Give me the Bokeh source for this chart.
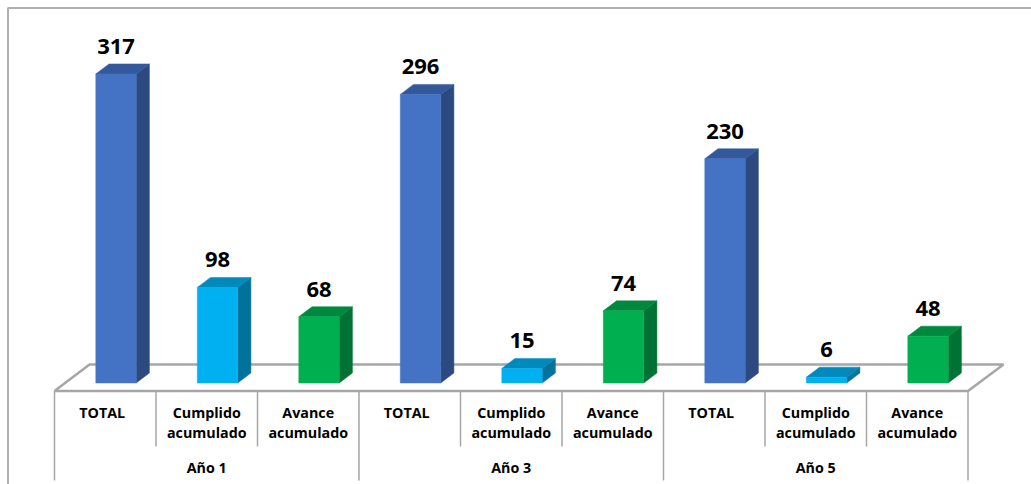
from bokeh.plotting import figure
from bokeh.models import Range1d
from bokeh.core.properties import value
from bokeh.embed import file_html
from bokeh.resources import INLINE

categories = ["TOTAL", "Cumplido\nacumulado", "Avance\nacumulado"] * 3
groups = ["Año 1", "Año 3", "Año 5"]
values = [317, 98, 68, 296, 15, 74, 230, 6, 48]

FRONT = {"TOTAL": "#4472C4", "Cumplido\nacumulado": "#00B0F0", "Avance\nacumulado": "#00B050"}
SIDE = {"TOTAL": "#2C4A80", "Cumplido\nacumulado": "#00729C", "Avance\nacumulado": "#007234"}
TOP = {"TOTAL": "#34599A", "Cumplido\nacumulado": "#0089BB", "Avance\nacumulado": "#00893E"}

W, H = 1031, 484
PX_X = 101.5      # px per category
PX_Y = 0.975      # px per unit
X0_PX = 115.5     # centre of first bar
Y0_PX = 382.5     # bar base
p = figure(width=W, height=H, output_backend="svg", toolbar_location=None,
           x_range=Range1d(-X0_PX / PX_X, (W - X0_PX) / PX_X),
           y_range=Range1d(-(H - Y0_PX) / PX_Y, Y0_PX / PX_Y),
           min_border=0, outline_line_color=None, background_fill_color="white")
p.axis.visible = False
p.grid.visible = False


def X(px):
    return (px - X0_PX) / PX_X


def Y(px):
    return (Y0_PX - px) / PX_Y


hw = 20.2 / PX_X
dx = 13.2 / PX_X
dy = 10 / PX_Y

# outer frame (open on the right and at the bottom)
p.line([X(7.5), X(7.5), X(W)], [Y(H), Y(7.5), Y(7.5)], line_color="#B0B0B0", line_width=2)

# floor
p.line([X(54), X(89), X(1003), X(967.5), X(54)],
       [Y(390.5), Y(364), Y(364), Y(390.5), Y(390.5)], line_color="#A6A6A6", line_width=2.5)

fronts = dict(xs=[], ys=[], c=[])
sides = dict(xs=[], ys=[], c=[])
tops = dict(xs=[], ys=[], c=[])
for i, (c, v) in enumerate(zip(categories, values)):
    l, r = i - hw, i + hw
    fronts["xs"].append([l, r, r, l]); fronts["ys"].append([0, 0, v, v]); fronts["c"].append(FRONT[c])
    sides["xs"].append([r, r + dx, r + dx, r]); sides["ys"].append([0, dy, v + dy, v]); sides["c"].append(SIDE[c])
    tops["xs"].append([l, r, r + dx, l + dx]); tops["ys"].append([v, v, v + dy, v + dy]); tops["c"].append(TOP[c])
for d in (sides, tops, fronts):
    p.patches("xs", "ys", fill_color="c", line_color="c", line_width=0.5, source=d)

font = value("Open Sans")
p.text(list(range(9)), [v + dy + 10/PX_Y for v in values],
       text=[str(v) for v in values], text_font=font, text_font_size="22px",
       text_font_style="bold", text_align="center", text_baseline="bottom", text_color="black")

# category separators
for k in range(10):
    xx = X(54 + 101.5 * k)
    p.line([xx, xx], [Y(390.5), Y(480) if k % 3 == 0 else Y(446)], line_color="#A6A6A6", line_width=1.5)

# category labels
lx, ly = [], []
for i, c in enumerate(categories):
    lx.append(X(54 + 101.5 * (i + 0.5)) - (0 if "\n" in c else 3 / PX_X))
    ly.append(Y(402))
p.text(lx, ly, text=categories, text_font=font, text_font_size="14.3px", text_font_style="bold",
       text_align="center", text_baseline="top", text_color="black", text_line_height=1.1)
p.text([X(54 + 101.5 * (3 * g + 1.5)) for g in range(3)], [Y(457.5)] * 3, text=groups, text_font=font,
       text_font_size="14.3px", text_font_style="bold", text_align="center", text_baseline="top",
       text_color="black")

open("out.html", "w").write(file_html(p, INLINE))
